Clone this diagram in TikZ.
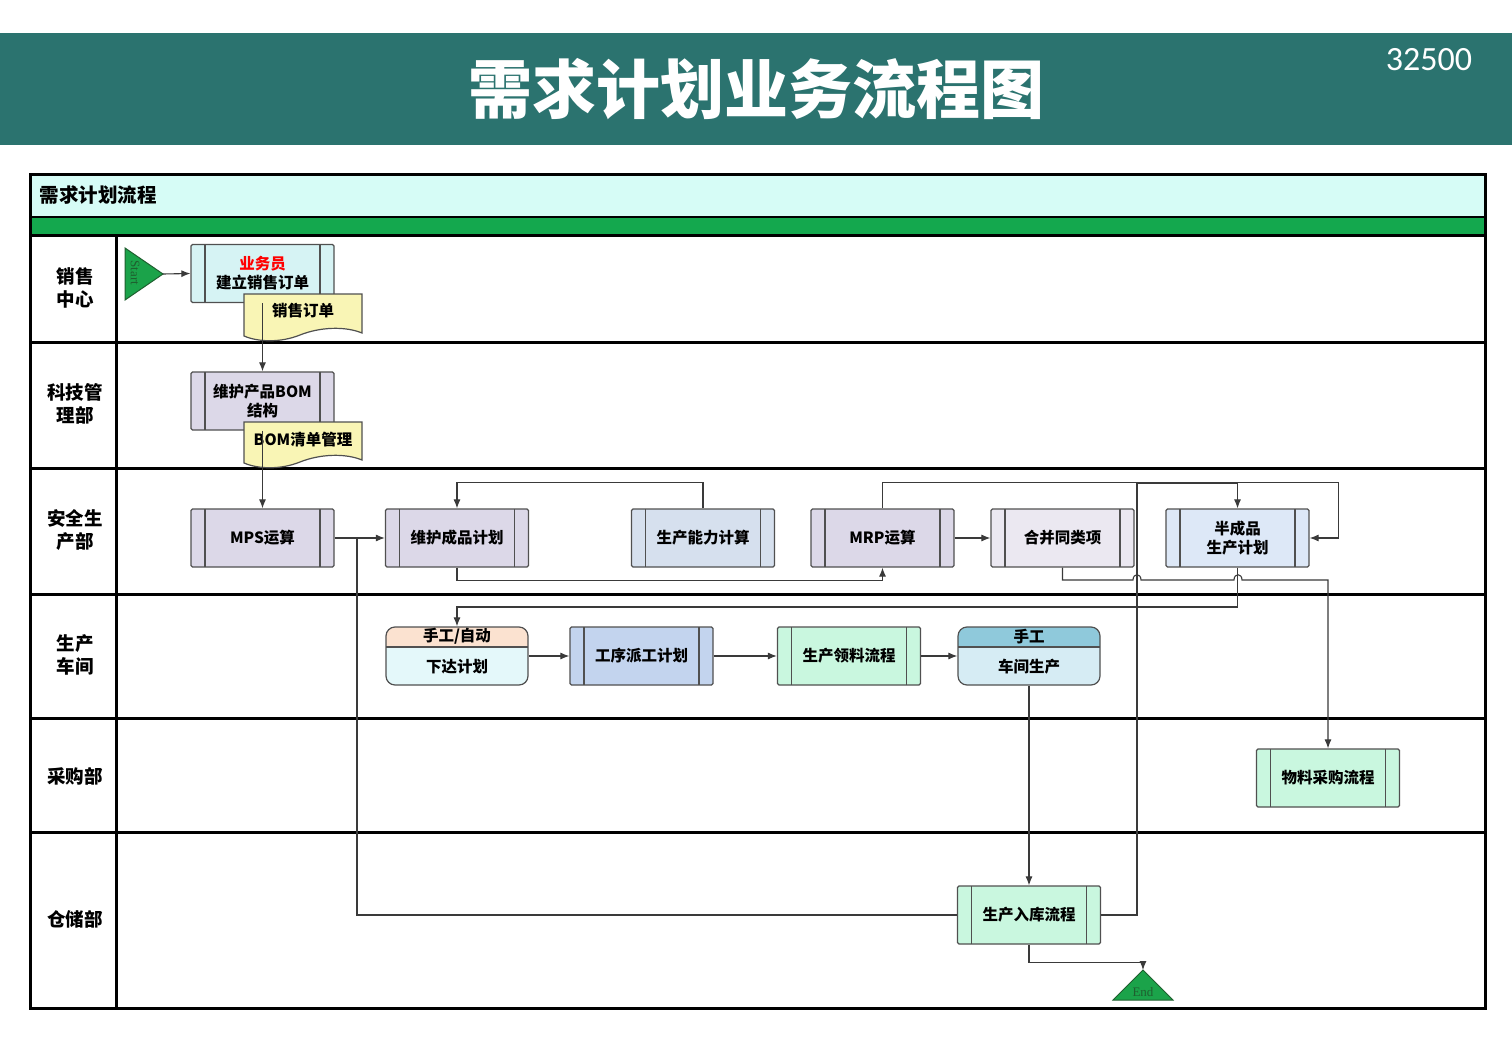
\documentclass[tikz,border=0pt]{standalone}
\usepackage{fontspec}
\setmainfont{Noto Sans CJK SC}
\newfontfamily\numfont{Carlito}
\newfontfamily\termfont{Liberation Serif}
\usetikzlibrary{arrows.meta,calc}
\definecolor{hdrteal}{HTML}{2B736F}
\definecolor{headfill}{HTML}{D6FCF6}
\definecolor{bandgreen}{HTML}{14A84E}
\definecolor{boxline}{HTML}{505050}
\definecolor{conline}{HTML}{3A3A3A}
\definecolor{lav}{HTML}{DCD8E8}
\definecolor{lavlight}{HTML}{EBE8F1}
\definecolor{capblue}{HTML}{D6E0EE}
\definecolor{semiblue}{HTML}{DDE8F7}
\definecolor{salescyan}{HTML}{D6F3F4}
\definecolor{dispblue}{HTML}{C3D4EE}
\definecolor{mint}{HTML}{C9F7DF}
\definecolor{docyellow}{HTML}{F9F5B5}
\definecolor{peach}{HTML}{FBE2D0}
\definecolor{icecyan}{HTML}{E4F8FA}
\definecolor{worktop}{HTML}{8FC9DB}
\definecolor{workbot}{HTML}{D6ECF4}
\definecolor{startgreen}{HTML}{1BA34A}
\definecolor{startline}{HTML}{1F5F2F}
\newcommand\myboxfont{\fontsize{15.5}{19}\selectfont\bfseries}
\newcommand\mylanefont{\fontsize{18.5}{23}\selectfont\bfseries}
\tikzset{
  lane/.style={draw=black, line width=3pt},
  proc/.style={draw=boxline, line width=1.2pt, rounded corners=1.5pt,
    minimum width=143pt, minimum height=58pt, inner sep=0pt, align=center,
    font=\myboxfont,
    path picture={
      \draw[boxline, line width=1.2pt, sharp corners]
        ([xshift=14pt]path picture bounding box.north west) --
        ([xshift=14pt]path picture bounding box.south west);
      \draw[boxline, line width=1.2pt, sharp corners]
        ([xshift=-14pt]path picture bounding box.north east) --
        ([xshift=-14pt]path picture bounding box.south east);}},
  twopart/.style={draw=boxline, line width=1.2pt, rounded corners=9pt,
    minimum width=142pt, minimum height=58pt, inner sep=0pt,
    path picture={
      \fill[#1, sharp corners] (path picture bounding box.north west)
        rectangle ([yshift=-20pt]path picture bounding box.north east);
      \draw[boxline, line width=1.2pt, sharp corners]
        ([yshift=-20pt]path picture bounding box.north west) --
        ([yshift=-20pt]path picture bounding box.north east);}},
  lbl/.style={font=\myboxfont, inner sep=0pt},
  doc/.style={fill=docyellow, draw=boxline, line width=1.2pt},
  lanelbl/.style={font=\mylanefont, align=center, inner sep=0pt},
  conn/.style={draw=conline, line width=1.1pt},
  arr/.style={conn, -{Latex[length=9pt,width=7pt]}},
}
\begin{document}
\begin{tikzpicture}[x=1pt,y=-1pt]
\useasboundingbox (0,0) rectangle (1512,1043);
\fill[white] (0,0) rectangle (1512,1043);
% header
\fill[hdrteal] (0,33) rectangle (1512,145);
\node[font=\fontsize{64}{70}\selectfont\bfseries, text=white] (title) at (756,89) {需求计划业务流程图};
\node[font=\numfont\fontsize{34}{38}\selectfont, text=white] (code) at (1429,60) {32500};
% frame
\fill[headfill] (30,175) rectangle (1485,217);
\fill[bandgreen] (30,217) rectangle (1485,235);
\node[anchor=west, font=\fontsize{19.5}{22}\selectfont\bfseries] (heading) at (36,195) {需求计划流程};
\draw[black, line width=1.2pt] (30,217) -- (1485,217);
\foreach \yy in {235,342,468,594,718,832} \draw[lane] (30,\yy) -- (1485,\yy);
\draw[lane] (116,235) -- (116,1008);
\draw[lane] (30,175) rectangle (1485,1008);
% lane labels
\node[lanelbl] (l1) at (75,288) {销售\\中心};
\node[lanelbl] (l2) at (75,404) {科技管\\理部};
\node[lanelbl] (l3) at (75,530) {安全生\\产部};
\node[lanelbl] (l4) at (75,655) {生产\\车间};
\node[lanelbl] (l5) at (75,776) {采购部};
\node[lanelbl] (l6) at (75,919) {仓储部};
% start
\filldraw[fill=startgreen, draw=startline, line width=1pt] (125,248) -- (163,274) -- (125,300) -- cycle;
\node[rotate=-90, font=\termfont\fontsize{13}{14}\selectfont, text=startline] (startlbl) at (135,273) {Start};
\coordinate (starttip) at (163,274);
% processes
\node[proc, fill=salescyan] (sales) at (262.5,273.5) {\textcolor{red}{业务员}\\建立销售订单};
\node[proc, fill=lav] (bom) at (262.5,401) {维护产品BOM\\结构};
\node[proc, fill=lav] (mps) at (262.5,538) {MPS运算};
\node[proc, fill=lav] (wcp) at (457,538) {维护成品计划};
\node[proc, fill=capblue] (cap) at (703,538) {生产能力计算};
\node[proc, fill=lav] (mrp) at (882.5,538) {MRP运算};
\node[proc, fill=lavlight] (merge) at (1062.5,538) {合并同类项};
\node[proc, fill=semiblue] (semi) at (1237.5,538) {半成品\\生产计划};
\node[twopart=peach, fill=icecyan] (m1) at (457,656) {};
\node[lbl] (m1a) at ([yshift=-10pt]m1.north) {手工/自动};
\node[lbl] (m1b) at ([yshift=19pt]m1.south) {下达计划};
\node[proc, fill=dispblue] (disp) at (641.5,656) {工序派工计划};
\node[proc, fill=mint] (pick) at (849,656) {生产领料流程};
\node[twopart=worktop, fill=workbot] (work) at (1029,656) {};
\node[lbl] (worka) at ([yshift=-10pt]work.north) {手工};
\node[lbl] (workb) at ([yshift=19pt]work.south) {车间生产};
\node[proc, fill=mint] (purch) at (1328,778) {物料采购流程};
\node[proc, fill=mint] (store) at (1029,915) {生产入库流程};
% documents
\filldraw[doc] (244,294) -- (362,294) -- (362,333) .. controls (345,326) and (320,327) .. (300,335) .. controls (280,343) and (258,342) .. (244,336) -- cycle;
\node[lbl] (d1) at (303,311) {销售订单};
\filldraw[doc] (244,422) -- (362,422) -- (362,460) .. controls (345,453) and (320,454) .. (300,462) .. controls (280,470) and (258,469) .. (244,463) -- cycle;
\node[lbl] (d2) at (303,440) {BOM清单管理};
% end
\filldraw[fill=startgreen, draw=startline, line width=1pt] (1113,1000) -- (1143,970) -- (1173,1000) -- cycle;
\node[font=\termfont\fontsize{13}{14}\selectfont, text=startline] (endlbl) at (1143,992) {End};
\coordinate (endtop) at (1143,970);
\coordinate (j1) at (357,538);
% connectors
\draw[arr] (starttip) -- (sales.west);
\draw[arr] (sales.south) -- (bom.north);
\draw[arr] (bom.south) -- (mps.north);
\draw[arr] (mps.east) -- (wcp.west);
\draw[conn] (store.west) -| (j1);
\draw[arr] (cap.north) -- ++(0,-26) -| (wcp.north);
\draw[arr] (wcp.south) -- ++(0,13) -| (mrp.south);
\draw[arr] (mrp.north) -- ++(0,-26) -| ($(semi.east)+(29,0)$) -- (semi.east);
\draw[arr] (mrp.east) -- (merge.west);
\draw[arr] (merge.south) -- (1062.5,580) -- (1133,580) .. controls (1133,573) and (1141,573) .. (1141,580) -- (1234,580) .. controls (1234,573) and (1242,573) .. (1242,580) -- (1328,580) -- (purch.north);
\draw[arr] (store.east) -| (1137,483) -| (semi.north);
\draw[arr] (semi.south) -- (1237.5,607) -- (457,607) -- (m1.north);
\draw[arr] (m1.east) -- (disp.west);
\draw[arr] (disp.east) -- (pick.west);
\draw[arr] (pick.east) -- (work.west);
\draw[arr] (work.south) -- (store.north);
\draw[arr] (store.south) -- ++(0,18) -| (endtop);
\end{tikzpicture}
\end{document}
